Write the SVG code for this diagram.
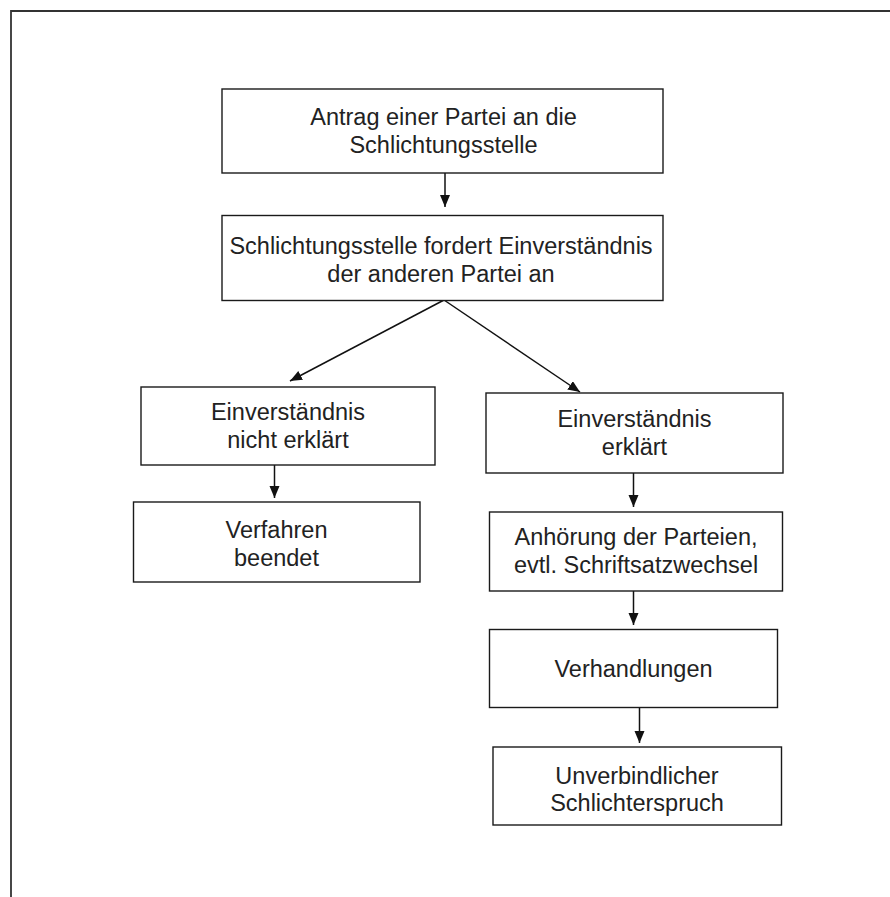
<svg xmlns="http://www.w3.org/2000/svg" width="890" height="897" viewBox="0 0 890 897">
<defs>
<style>
.box{fill:#fff;stroke:#1a1a1a;stroke-width:1.4}
.t{font-family:"Liberation Sans",Arial,sans-serif;font-size:23.5px;fill:#222;text-anchor:middle}
.c{stroke:#111;stroke-width:1.5;fill:none;marker-end:url(#ah)}
.frame{stroke:#333;stroke-width:1.8;fill:none}
</style>
<marker id="ah" markerUnits="userSpaceOnUse" markerWidth="13" markerHeight="11" refX="12" refY="5" orient="auto">
<path d="M0,0 L12,5 L0,10 z" fill="#111"/>
</marker>
</defs>
<rect width="890" height="897" fill="#fff"/>
<path class="frame" d="M11,897 L11,11 L890,11"/>
<g id="connectors">
<line class="c" x1="445" y1="173" x2="445" y2="207"/>
<line class="c" x1="444" y1="300" x2="290" y2="381"/>
<line class="c" x1="444" y1="300" x2="580" y2="392"/>
<line class="c" x1="274.5" y1="465" x2="274.5" y2="498"/>
<line class="c" x1="633.5" y1="473" x2="633.5" y2="507"/>
<line class="c" x1="633.5" y1="591" x2="633.5" y2="625"/>
<line class="c" x1="639.5" y1="707" x2="639.5" y2="743"/>
</g>
<g id="n1"><rect class="box" x="222" y="89" width="441" height="84"/>
<text class="t" x="443.5" y="125">Antrag einer Partei an die</text>
<text class="t" x="443.5" y="153">Schlichtungsstelle</text></g>
<g id="n2"><rect class="box" x="222" y="215.5" width="441" height="85"/>
<text class="t" x="441" y="254">Schlichtungsstelle fordert Einverständnis</text>
<text class="t" x="441" y="282">der anderen Partei an</text></g>
<g id="n3"><rect class="box" x="141" y="387" width="294" height="78"/>
<text class="t" x="288" y="420">Einverständnis</text>
<text class="t" x="288" y="448">nicht erklärt</text></g>
<g id="n4"><rect class="box" x="486" y="393" width="297" height="80"/>
<text class="t" x="634.5" y="427">Einverständnis</text>
<text class="t" x="634.5" y="455">erklärt</text></g>
<g id="n5"><rect class="box" x="133.5" y="502" width="286.5" height="80"/>
<text class="t" x="276.5" y="538">Verfahren</text>
<text class="t" x="276.5" y="566">beendet</text></g>
<g id="n6"><rect class="box" x="489.5" y="512" width="293" height="79"/>
<text class="t" x="636" y="545">Anhörung der Parteien,</text>
<text class="t" x="636" y="573">evtl. Schriftsatzwechsel</text></g>
<g id="n7"><rect class="box" x="489.5" y="629.5" width="288" height="78"/>
<text class="t" x="633.5" y="677">Verhandlungen</text></g>
<g id="n8"><rect class="box" x="493" y="747" width="288.5" height="78"/>
<text class="t" x="637" y="784">Unverbindlicher</text>
<text class="t" x="637" y="811">Schlichterspruch</text></g>
</svg>
